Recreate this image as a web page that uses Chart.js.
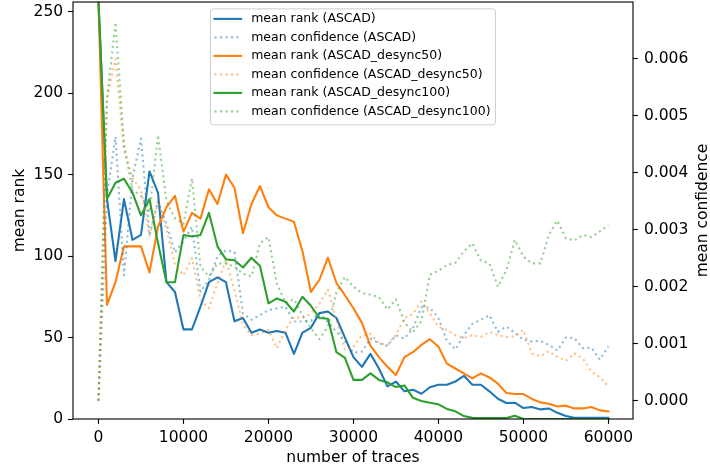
<!DOCTYPE html>
<html>
<head>
<meta charset="utf-8">
<script src="https://cdn.jsdelivr.net/npm/chart.js@4.4.1/dist/chart.umd.min.js"></script>
<style>
  html, body { margin: 0; padding: 0; background: #fff; }
  #caixa { width: 710px; height: 471px; }
</style>
</head>
<body>
<div id="caixa"><canvas id="graficoRank" width="710" height="471"></canvas></div>
<script>
// eixo x: numero de traces
const traces = [0, 1000, 2000, 3000, 4000, 5000, 6000, 7000, 8000, 9000,
  10000, 11000, 12000, 13000, 14000, 15000, 16000, 17000, 18000, 19000,
  20000, 21000, 22000, 23000, 24000, 25000, 26000, 27000, 28000, 29000,
  30000, 31000, 32000, 33000, 34000, 35000, 36000, 37000, 38000, 39000,
  40000, 41000, 42000, 43000, 44000, 45000, 46000, 47000, 48000, 49000,
  50000, 51000, 52000, 53000, 54000, 55000, 56000, 57000, 58000, 59000, 60000];

// mean rank
const rankAscad = [256, 135, 97, 135, 110, 113, 152, 139, 84, 78,
  55, 55, 69, 84, 87, 84, 60, 62, 53, 55,
  53, 54, 53, 40, 53, 56, 65, 66, 62, 50,
  38, 32, 40, 31, 20, 23, 17, 18, 15.5, 19.5,
  21, 21, 23, 26.5, 21, 21, 17, 12.4, 9.8, 10,
  6.7, 7.4, 5.9, 6.5, 3.8, 1.8, 0.8, 0.7, 0.7, 0.7, 0.7];
const rankDesync50 = [256, 70, 84, 106, 106, 106, 90, 118, 130, 137,
  115, 126.5, 123, 141, 132, 150, 142, 114, 132, 143,
  130, 125, 123, 121, 103, 78, 85.5, 99, 83.5, 76,
  68, 59, 45, 38, 32, 27, 38, 41, 45.5, 49,
  44.5, 34, 31, 28, 25, 28, 25.5, 21.7, 16, 15.3,
  15.3, 12.3, 10.2, 9.4, 7.7, 8.2, 6.5, 6.5, 7.4, 5.3, 4.7];
const rankDesync100 = [256, 135, 145, 147.5, 139, 125, 135, 108, 84, 84,
  113, 112, 113, 126.5, 106, 98, 97.5, 93, 99, 94,
  71, 74, 72, 66, 75, 69.5, 62, 61.5, 41, 37.5,
  24, 24, 28, 24, 22.5, 19.6, 20.6, 13, 11, 10,
  9, 6.2, 4.7, 1.8, 0.7, 0.6, 0.6, 0.6, 0.6, 2,
  0, 0, 0, 0, 0, 0, 0, 0, 0, 0, 0];

// mean confidence
const confAscad = [0, 0.0036, 0.00463, 0.0022, 0.0039, 0.0046, 0.0029, 0.0035, 0.0031, 0.0026,
  0.0028, 0.00305, 0.00191, 0.00212, 0.00253, 0.00264, 0.00261, 0.00153, 0.00142, 0.0015,
  0.00159, 0.00162, 0.00165, 0.00139, 0.00139, 0.0014, 0.00154, 0.00138, 0.00121, 0.00104,
  0.00084, 0.00086, 0.00109, 0.00101, 0.00096, 0.00115, 0.00109, 0.00127, 0.00164, 0.00163,
  0.00145, 0.00105, 0.0009, 0.00115, 0.00135, 0.00142, 0.0015, 0.00121, 0.0013, 0.00119,
  0.00107, 0.00104, 0.00105, 0.00098, 0.00088, 0.00111, 0.0011, 0.00092, 0.00093, 0.00072, 0.00095];
const confDesync50 = [0, 0.0053, 0.006, 0.0044, 0.0039, 0.0037, 0.0029, 0.0035, 0.003, 0.0024,
  0.0022, 0.0025, 0.00177, 0.00162, 0.00206, 0.00247, 0.00194, 0.00133, 0.00115, 0.00118,
  0.00124, 0.00092, 0.00124, 0.00147, 0.00145, 0.00153, 0.0017, 0.00195, 0.00142, 0.00089,
  0.00095, 0.00115, 0.00117, 0.00101, 0.00098, 0.00115, 0.00145, 0.00152, 0.00174, 0.00153,
  0.0013, 0.00124, 0.00115, 0.0011, 0.00115, 0.00112, 0.00121, 0.00115, 0.00112, 0.00113,
  0.00124, 0.00083, 0.00078, 0.00087, 0.00077, 0.0007, 0.00083, 0.00074, 0.00051, 0.00041, 0.00025];
const confDesync100 = [0, 0.0053, 0.00664, 0.0045, 0.0037, 0.0036, 0.0033, 0.00466, 0.0035, 0.0032,
  0.0031, 0.0039, 0.00235, 0.00218, 0.00241, 0.00241, 0.00235, 0.00223, 0.00218, 0.00276,
  0.00287, 0.00205, 0.00172, 0.00178, 0.0015, 0.00127, 0.00108, 0.0013, 0.0019, 0.00217,
  0.002, 0.00189, 0.00186, 0.00182, 0.0016, 0.00178, 0.00138, 0.0012, 0.0014, 0.00221,
  0.00228, 0.00238, 0.00242, 0.00262, 0.00276, 0.00246, 0.00241, 0.002, 0.00229, 0.00282,
  0.00253, 0.00241, 0.00241, 0.00291, 0.00316, 0.00285, 0.00281, 0.00291, 0.00287, 0.00297, 0.00308];

// ticks dos eixos
const traceTicks = [0, 10000, 20000, 30000, 40000, 50000, 60000];
const rankTicks = [0, 50, 100, 150, 200, 250];
const confTicks = [0, 0.001, 0.002, 0.003, 0.004, 0.005, 0.006];

const azul = "#1f77b4";
const laranja = "#ff7f0e";
const verde = "#2ca02c";
const fonte = { family: "'DejaVu Sans'", size: 15.5, lineHeight: 1.2 };

function linhaRank(legenda, dados, cor, ordem) {
  return {
    label: legenda, data: dados, yAxisID: "yRank",
    borderColor: cor, borderWidth: 2.08, borderCapStyle: "square", borderJoinStyle: "round",
    pointRadius: 0, fill: false, tension: 0, order: ordem,
  };
}

function linhaConf(legenda, dados, cor, ordem) {
  return {
    label: legenda, data: dados, yAxisID: "yConf",
    borderColor: cor, borderWidth: 2.08, borderDash: [2.08, 3.44], borderCapStyle: "butt", borderJoinStyle: "round",
    pointRadius: 0, fill: false, tension: 0, order: ordem,
  };
}

// moldura, legenda e titulo do eixo direito
const extras = {
  id: "extras",
  afterDraw(chart) {
    const ctx = chart.ctx;
    const area = chart.chartArea;
    ctx.save();
    ctx.strokeStyle = "#000";
    ctx.lineWidth = 1.11;
    ctx.strokeRect(area.left, area.top, area.right - area.left, area.bottom - area.top);

    ctx.font = "12.5px 'DejaVu Sans'";
    const itens = chart.data.datasets;
    const largura = Math.max(...itens.map(d => ctx.measureText(d.label).width));
    const w = 40.7 + largura + 5;
    const h = 116;
    const x0 = (area.left + area.right) / 2 - w / 2;
    const y0 = area.top + 6.9;
    ctx.beginPath();
    ctx.roundRect(x0, y0, w, h, 3);
    ctx.fillStyle = "rgba(255,255,255,0.8)";
    ctx.fill();
    ctx.strokeStyle = "#cccccc";
    ctx.lineWidth = 1;
    ctx.stroke();

    itens.forEach((d, i) => {
      const y = y0 + 10 + i * 18.5;
      ctx.beginPath();
      ctx.strokeStyle = d.borderColor;
      ctx.lineWidth = d.borderWidth;
      ctx.lineCap = d.borderCapStyle;
      ctx.setLineDash(d.borderDash || []);
      ctx.moveTo(x0 + 4, y);
      ctx.lineTo(x0 + 30.7, y);
      ctx.stroke();
      ctx.setLineDash([]);
      ctx.fillStyle = "#000";
      ctx.textBaseline = "middle";
      ctx.textAlign = "left";
      ctx.fillText(d.label, x0 + 40.7, y);
    });

    ctx.font = "15.5px 'DejaVu Sans'";
    ctx.translate(703, (area.top + area.bottom) / 2);
    ctx.rotate(-Math.PI / 2);
    ctx.textAlign = "center";
    ctx.textBaseline = "middle";
    ctx.fillStyle = "#000";
    ctx.fillText("mean confidence", 0, 0);
    ctx.restore();
  },
};

const graficoRank = new Chart(document.getElementById("graficoRank"), {
  type: "line",
  data: {
    labels: traces,
    datasets: [
      linhaRank("mean rank (ASCAD)", rankAscad, azul, 5),
      linhaConf("mean confidence (ASCAD)", confAscad, "rgba(31,119,180,0.5)", 2),
      linhaRank("mean rank (ASCAD_desync50)", rankDesync50, laranja, 4),
      linhaConf("mean confidence (ASCAD_desync50)", confDesync50, "rgba(255,127,14,0.5)", 1),
      linhaRank("mean rank (ASCAD_desync100)", rankDesync100, verde, 3),
      linhaConf("mean confidence (ASCAD_desync100)", confDesync100, "rgba(44,160,44,0.5)", 0),
    ],
  },
  options: {
    responsive: false,
    animation: false,
    devicePixelRatio: 1,
    layout: { padding: { top: 2, left: 0, right: 0, bottom: 0 } },
    plugins: { legend: { display: false }, tooltip: { enabled: false } },
    scales: {
      x: {
        type: "linear", min: -3000, max: 62900,
        afterBuildTicks: s => { s.ticks = traceTicks.map(v => ({ value: v })); },
        afterFit: s => { s.height = 52; s.paddingLeft = 0; s.paddingRight = 0; },
        grid: { drawOnChartArea: false, tickLength: 4.9, tickColor: "#000", tickWidth: 1.11 },
        border: { display: false },
        ticks: { color: "#000", font: fonte, padding: 5, maxRotation: 0, autoSkip: false, callback: v => String(v) },
        title: { display: true, text: "number of traces", color: "#000", font: fonte, padding: { top: 0, bottom: 3.7 } },
      },
      yRank: {
        type: "linear", position: "left", min: 0, max: 256,
        afterBuildTicks: s => { s.ticks = rankTicks.map(v => ({ value: v })); },
        afterFit: s => { s.width = 73; s.paddingTop = 0; s.paddingBottom = 0; },
        grid: { drawOnChartArea: false, tickLength: 4.9, tickColor: "#000", tickWidth: 1.11 },
        border: { display: false },
        ticks: { color: "#000", font: fonte, padding: 5, callback: v => String(v) },
        title: { display: true, text: "mean rank", color: "#000", font: fonte, padding: { top: 10.7, bottom: 0 } },
      },
      yConf: {
        type: "linear", position: "right", min: -0.000321, max: 0.006995,
        afterBuildTicks: s => { s.ticks = confTicks.map(v => ({ value: v })); },
        afterFit: s => { s.width = 77; s.paddingTop = 0; s.paddingBottom = 0; },
        grid: { drawOnChartArea: false, tickLength: 4.9, tickColor: "#000", tickWidth: 1.11 },
        border: { display: false },
        ticks: { color: "#000", font: fonte, padding: 6, callback: v => v.toFixed(3) },
      },
    },
  },
  plugins: [extras],
});
</script>
</body>
</html>
